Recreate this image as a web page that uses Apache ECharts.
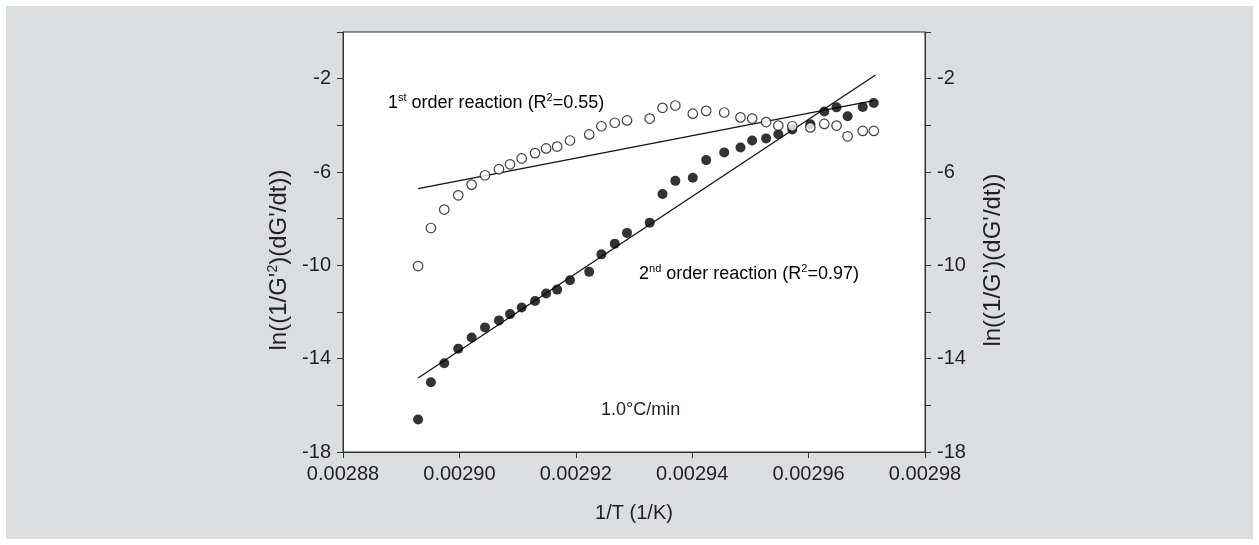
<!DOCTYPE html>
<html>
<head>
<meta charset="utf-8">
<script src="https://cdn.jsdelivr.net/npm/echarts@6/dist/echarts.min.js"></script>
<style>
  html, body { margin: 0; padding: 0; background: #fff; }
  #bg { position: absolute; left: 6px; top: 6px; width: 1247px; height: 533px; background: #dcdddf; }
  #chart { position: absolute; left: 0; top: 0; width: 1259px; height: 545px; }
</style>
</head>
<body>
<div id="bg"></div>
<div id="chart"></div>
<script>
// 1/T (1/K)
const invT = [0.0028929, 0.0028951, 0.0028974, 0.0028998, 0.0029021, 0.0029044, 0.0029068, 0.0029087,
  0.0029107, 0.0029130, 0.0029149, 0.0029168, 0.0029190, 0.0029223, 0.0029244, 0.0029267, 0.0029288,
  0.0029327, 0.0029349, 0.0029371, 0.0029401, 0.0029424, 0.0029455, 0.0029483, 0.0029503, 0.0029527,
  0.0029548, 0.0029572, 0.0029603, 0.0029627, 0.0029648, 0.0029667, 0.0029693, 0.0029712];
// open circles, right axis
const firstOrder = [-10.03, -8.40, -7.61, -7.00, -6.54, -6.14, -5.88, -5.67, -5.42, -5.19, -4.99, -4.91,
  -4.65, -4.39, -4.04, -3.89, -3.79, -3.71, -3.25, -3.15, -3.50, -3.38, -3.45, -3.66, -3.71, -3.86,
  -4.01, -4.04, -4.09, -3.94, -4.01, -4.47, -4.24, -4.24];
// filled circles, left axis
const secondOrder = [-16.61, -15.01, -14.20, -13.57, -13.09, -12.66, -12.36, -12.09, -11.81, -11.53,
  -11.21, -11.04, -10.64, -10.28, -9.53, -9.07, -8.61, -8.17, -6.94, -6.38, -6.25, -5.49, -5.16, -4.95,
  -4.65, -4.56, -4.38, -4.18, -3.95, -3.41, -3.23, -3.61, -3.21, -3.04];
// regression line end points
const fit1X = [0.0028929, 0.0029712];
const fit1Y = [-6.71, -2.94];
const fit2X = [0.0028929, 0.0029715];
const fit2Y = [-14.83, -1.84];
const xTicks = [0.00288, 0.00298, 0.00002];
const yTicks = [-18, 0, 2];

const FONT = '"Liberation Sans", Arial, sans-serif';
const INK = '#231f20';
const sup = { fontSize: 11, fontFamily: FONT, color: INK, verticalAlign: 'top', lineHeight: 22 };
const base = { fontSize: 18, fontFamily: FONT, color: INK, lineHeight: 22 };
const nameBase = { fontSize: 24, fontFamily: FONT, color: INK, lineHeight: 27 };
const nameSup = { fontSize: 14, fontFamily: FONT, color: INK, verticalAlign: 'top', lineHeight: 27 };

const pairs = (xs, ys) => xs.map((x, i) => [x, ys[i]]);

function yAxis(name, pos, gap) {
  return {
    type: 'value',
    position: pos,
    min: yTicks[0], max: yTicks[1], interval: yTicks[2],
    name: name,
    nameLocation: 'middle',
    nameRotate: 90,
    nameGap: gap,
    // padding on the right pushes the rotated name a little lower
    nameTextStyle: Object.assign({ rich: { b: nameBase, s: nameSup }, padding: [0, 36, 0, 0] }, nameBase),
    axisLine: { show: true, lineStyle: { color: '#333', width: 1 } },
    axisTick: { show: true, length: 6, lineStyle: { color: '#333' } },
    splitLine: { show: false },
    axisLabel: {
      margin: 12,
      fontSize: 20, fontFamily: FONT, color: INK,
      formatter: (v) => ((v - yTicks[0]) % 4 === 0 ? String(v) : '')
    }
  };
}

const chart = echarts.init(document.getElementById('chart'));
chart.setOption({
  animation: false,
  grid: {
    left: 343, right: 334, top: 32, bottom: 93,
    show: true, backgroundColor: '#fff', borderColor: '#333', borderWidth: 1
  },
  xAxis: {
    type: 'value',
    min: xTicks[0], max: xTicks[1], interval: xTicks[2],
    name: '1/T (1/K)',
    nameLocation: 'middle',
    nameGap: 51,
    nameTextStyle: { fontSize: 20, fontFamily: FONT, color: INK },
    axisLine: { show: true, onZero: false, lineStyle: { color: '#333', width: 1 } },
    axisTick: { show: true, length: 6, lineStyle: { color: '#333' } },
    splitLine: { show: false },
    axisLabel: {
      margin: 12,
      fontSize: 20, fontFamily: FONT, color: INK,
      formatter: (v) => v.toFixed(5)
    }
  },
  yAxis: [
    yAxis("{b|ln((1/G'}{s|2}{b|)(dG'/dt))}", 'left', 50),
    yAxis("ln((1/G')(dG'/dt))", 'right', 55)
  ],
  series: [
    {
      name: 'fit2', type: 'line', yAxisIndex: 0, data: pairs(fit2X, fit2Y),
      symbol: 'none', lineStyle: { color: '#111', width: 1.3 }, z: 2
    },
    {
      name: 'fit1', type: 'line', yAxisIndex: 1, data: pairs(fit1X, fit1Y),
      symbol: 'none', lineStyle: { color: '#111', width: 1.3 }, z: 2
    },
    {
      name: '2nd order', type: 'scatter', yAxisIndex: 0, data: pairs(invT, secondOrder),
      symbol: 'circle', symbolSize: 10, itemStyle: { color: '#000' }, z: 3
    },
    {
      name: '1st order', type: 'scatter', yAxisIndex: 1, data: pairs(invT, firstOrder),
      symbol: 'circle', symbolSize: 9.5,
      itemStyle: { color: '#fff', borderColor: '#111', borderWidth: 1.2 }, z: 4
    }
  ],
  graphic: [
    {
      type: 'text', left: 388, top: 92, z: 10,
      style: { text: '{b|1}{s|st}{b| order reaction (R}{s|2}{b|=0.55)}', rich: { b: base, s: sup } }
    },
    {
      type: 'text', left: 639, top: 263, z: 10,
      style: { text: '{b|2}{s|nd}{b| order reaction (R}{s|2}{b|=0.97)}', rich: { b: base, s: sup } }
    },
    {
      type: 'text', left: 601, top: 401, z: 10,
      style: { text: '1.0°C/min', font: '18px ' + FONT, fill: INK }
    }
  ]
});
</script>
</body>
</html>
